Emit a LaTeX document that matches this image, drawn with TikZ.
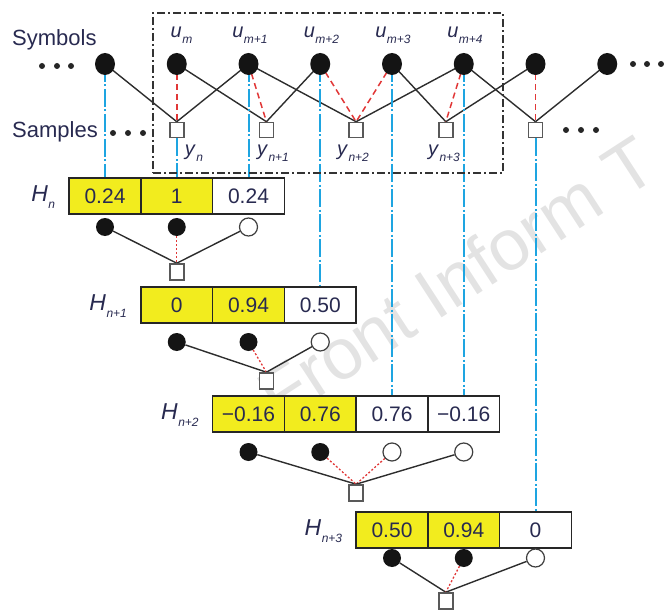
\documentclass[tikz,border=0pt]{standalone}
\usepackage{fontspec}
\setmainfont{Liberation Sans}
\usetikzlibrary{shapes.geometric,backgrounds,calc}

\definecolor{ink}{RGB}{40,42,80}
\definecolor{cellyellow}{RGB}{242,236,30}
\definecolor{guide}{RGB}{30,165,225}
\definecolor{linkred}{RGB}{225,55,55}
\definecolor{wire}{RGB}{45,45,45}

% italic letter with a small italic index
\newcommand\idx[3]{\fontsize{#1}{#1}\selectfont\textit{#2}\kern0.4pt\raisebox{-0.32em}{\fontsize{12}{12}\selectfont\textit{#3}}}

\tikzset{
  sym/.style={ellipse, minimum width=20pt, minimum height=22pt, inner sep=0pt, fill=black!92},
  tap/.style={circle, minimum size=18pt, inner sep=0pt, fill=black!92},
  nulltap/.style={circle, minimum size=18pt, inner sep=0pt, fill=white, draw=black!75, line width=1.2pt},
  smp/.style={rectangle, minimum width=14pt, minimum height=15pt, inner sep=0pt, draw=black!65, line width=1.6pt, fill=white},
  cell/.style={rectangle, minimum width=71.75pt, minimum height=36pt, inner sep=0pt, draw=black!85, line width=1.6pt, font=\fontsize{21}{21}\selectfont, text=ink},
  hot/.style={cell, fill=cellyellow},
  link/.style={draw=wire, line width=1.4pt},
  tie/.style={draw=linkred, line width=1.5pt, dash pattern=on 6pt off 4pt},
  tiedot/.style={draw=linkred, line width=1.3pt, dash pattern=on 2pt off 2pt},
  guideline/.style={draw=guide, line width=2pt, dash pattern=on 18pt off 2.5pt on 2pt off 2.5pt},
  ell/.style={circle, fill=black!85, minimum size=6pt, inner sep=0pt},
  rowtext/.style={anchor=west, text=ink, font=\fontsize{22}{22}\selectfont, inner sep=0pt},
  lab/.style={text=ink, inner sep=0pt},
  framebox/.style={rectangle, draw=black!80, line width=1.4pt, dash pattern=on 8pt off 3pt on 2pt off 3pt, inner sep=0pt}
}

\begin{document}
\begin{tikzpicture}[x=1pt, y=-1pt]
\useasboundingbox (0,0) rectangle (665,610);

% row captions and ellipses
\node[rowtext] (symcap) at (12,40) {Symbols};
\node[rowtext] (smpcap) at (12,132) {Samples};
\foreach \x [count=\i] in {42,57,71} \node[ell] (dl\i) at (\x,66) {};
\foreach \x [count=\i] in {113,128,143} \node[ell] (sl\i) at (\x,133) {};
\foreach \x [count=\i] in {633,647,661} \node[ell] (dr\i) at (\x,64) {};
\foreach \x [count=\i] in {566,581,596} \node[ell] (sr\i) at (\x,130) {};

% transmitted symbols and received samples
\foreach \k in {0,...,7} \node[sym] (s\k) at ({105+71.75*\k},64) {};
\foreach \j in {0,...,4} \node[smp] (q\j) at ({176.75+89.6875*\j},130) {};

% observation window
\node[framebox, minimum width=350pt, minimum height=160pt] (win) at (328,93) {};

% symbol labels
\node[lab] (um0) at (181.5,35) {\idx{20}{u}{m}};
\node[lab] (um1) at (250,35) {\idx{20}{u}{m+1}};
\node[lab] (um2) at (321.5,35) {\idx{20}{u}{m+2}};
\node[lab] (um3) at (393,35) {\idx{20}{u}{m+3}};
\node[lab] (um4) at (465,35) {\idx{20}{u}{m+4}};

% sample labels
\node[lab] (yn0) at (194,153) {\idx{20}{y}{n}};
\node[lab] (yn1) at (273,153) {\idx{20}{y}{n+1}};
\node[lab] (yn2) at (353,153) {\idx{20}{y}{n+2}};
\node[lab] (yn3) at (444,153) {\idx{20}{y}{n+3}};

% channel tap tables
\node[hot]  (h0a) at (105,196) {0.24};
\node[hot]  (h0b) at (176.75,196) {1};
\node[cell] (h0c) at (248.5,196) {0.24};

\node[hot]  (h1a) at (176.75,305) {0};
\node[hot]  (h1b) at (248.5,305) {0.94};
\node[cell] (h1c) at (320.25,305) {0.50};

\node[hot]  (h2a) at (248.5,414) {−0.16};
\node[hot]  (h2b) at (320.25,414) {0.76};
\node[cell] (h2c) at (392,414) {0.76};
\node[cell] (h2d) at (463.75,414) {−0.16};

\node[hot]  (h3a) at (392,530) {0.50};
\node[hot]  (h3b) at (463.75,530) {0.94};
\node[cell] (h3c) at (535.5,530) {0};

\node[lab, anchor=east] (H0) at ($(h0a.west)+(-13,1)$) {\idx{23}{H}{n}};
\node[lab, anchor=east] (H1) at ($(h1a.west)+(-13,1)$) {\idx{23}{H}{n+1}};
\node[lab, anchor=east] (H2) at ($(h2a.west)+(-13,1)$) {\idx{23}{H}{n+2}};
\node[lab, anchor=east] (H3) at ($(h3a.west)+(-13,1)$) {\idx{23}{H}{n+3}};

% per-sample trellis sections
\node[tap] (a0) at (105,227) {};
\node[tap] (a1) at (176.75,227) {};
\node[nulltap] (a2) at (248.5,227) {};
\node[smp, minimum height=16pt] (ya) at (176.75,272) {};

\node[tap] (b0) at (176.75,342) {};
\node[tap] (b1) at (248.5,342) {};
\node[nulltap] (b2) at (320.25,342) {};
\node[smp, minimum height=16pt] (yb) at (266.4,381) {};

\node[tap] (c0) at (248.5,452) {};
\node[tap] (c1) at (320.25,452) {};
\node[nulltap] (c2) at (392,452) {};
\node[nulltap] (c3) at (463.75,452) {};
\node[smp, minimum height=16pt] (yc) at (356.1,493) {};

\node[tap] (d0) at (392,558) {};
\node[tap] (d1) at (463.75,558) {};
\node[nulltap] (d2) at (535.5,558) {};
\node[smp, minimum height=16pt] (yd) at (445.8,601) {};

\begin{pgfonlayer}{background}
  % watermark
  \node[rotate=33, anchor=base west, text=black!11, inner sep=0pt,
        font=\fontsize{72}{72}\selectfont] (wm) at (279,424) {Front Inform T};

  % intersymbol links
  \draw[link] (s0.center) -- (q0.north);
  \draw[tie]  (s1.center) -- (q0.north);
  \draw[link] (s2.center) -- (q0.north);

  \draw[link] (s1.center) -- (q1.north);
  \draw[tie]  (s2.center) -- (q1.north);
  \draw[link] (s3.center) -- (q1.north);

  \draw[link] (s2.center) -- (q2.north);
  \draw[tie]  (s3.center) -- (q2.north);
  \draw[tie]  (s4.center) -- (q2.north);
  \draw[link] (s5.center) -- (q2.north);

  \draw[link] (s4.center) -- (q3.north);
  \draw[tie]  (s5.center) -- (q3.north);
  \draw[link] (s6.center) -- (q3.north);

  \draw[link] (s5.center) -- (q4.north);
  \draw[tie]  (s6.center) -- (q4.north);
  \draw[link] (s7.center) -- (q4.north);

  % guides from symbols to table entries
  \draw[guideline] (s0.center) -- (h0a.north);
  \draw[guideline] (q0.south) -- (h0b.north);
  \draw[guideline] (s2.center) -- (h0c.north);
  \draw[guideline] (s3.center) -- (h1c.north);
  \draw[guideline] (s4.center) -- (h2c.north);
  \draw[guideline] (s5.center) -- (h2d.north);
  \draw[guideline] (q4.south) -- (h3c.north);

  % section links
  \draw[link] (a0) -- (ya.north);
  \draw[tiedot] (a1) -- (ya.north);
  \draw[link] (a2) -- (ya.north);

  \draw[link] (b0) -- (yb.north);
  \draw[tiedot] (b1) -- (yb.north);
  \draw[link] (b2) -- (yb.north);

  \draw[link] (c0) -- (yc.north);
  \draw[tiedot] (c1) -- (yc.north);
  \draw[tiedot] (c2) -- (yc.north);
  \draw[link] (c3) -- (yc.north);

  \draw[link] (d0) -- (yd.north);
  \draw[tiedot] (d1) -- (yd.north);
  \draw[link] (d2) -- (yd.north);
\end{pgfonlayer}
\end{tikzpicture}
\end{document}
